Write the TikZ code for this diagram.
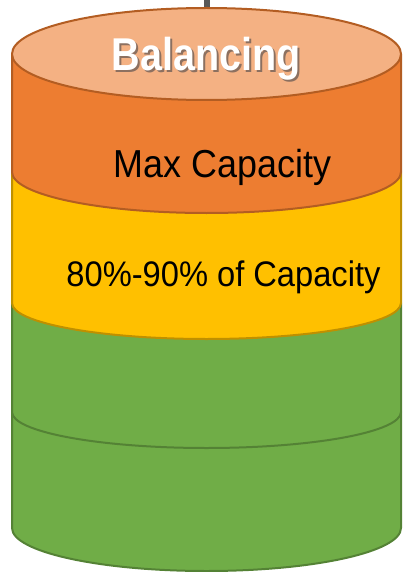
\documentclass[tikz,border=0pt]{standalone}
\usepackage{fontspec}
\setmainfont{Liberation Sans}
\newfontfamily\labfont[FakeStretch=0.92]{Liberation Sans}
\newfontfamily\balfont[FakeStretch=0.86]{Liberation Sans Bold}
\definecolor{topfill}{HTML}{F4B183}
\definecolor{orfill}{HTML}{ED7D31}
\definecolor{ordraw}{HTML}{B35D22}
\definecolor{yefill}{HTML}{FFC000}
\definecolor{yedraw}{HTML}{BF9000}
\definecolor{grfill}{HTML}{70AD47}
\definecolor{grdraw}{HTML}{548235}
\definecolor{stem}{HTML}{595959}
\definecolor{shadowgray}{HTML}{8C7060}
\newcommand{\shadowtext}[1]{\makebox[0pt][l]{\hspace*{1.8pt}\raisebox{-1.8pt}{\textcolor{shadowgray}{#1}}}#1}
\tikzset{
  band/.style={line width=2pt, line join=round},
  lab/.style={inner sep=0pt, anchor=base, text=black, font=\labfont},
}
\begin{document}
\begin{tikzpicture}[x=1pt,y=-1pt]
\useasboundingbox (0,0) rectangle (406,572);
% stem line on top
\coordinate (stemtop) at (207,0);
\coordinate (stembot) at (207,9);
\draw[stem, line width=5.5pt] (stemtop) -- (stembot);
% green lower band
\path[band, fill=grfill, draw=grdraw] (12,412) -- (12,528) arc[start angle=180, end angle=0, x radius=194.5, y radius=43] -- (401,412) -- cycle;
% green upper band
\path[band, fill=grfill, draw=grdraw] (12,303) -- (12,412) arc[start angle=180, end angle=0, x radius=194.5, y radius=36] -- (401,303) -- cycle;
% yellow band
\path[band, fill=yefill, draw=yedraw] (12,172) -- (12,303) arc[start angle=180, end angle=0, x radius=194.5, y radius=36] -- (401,172) -- cycle;
% orange band
\path[band, fill=orfill, draw=ordraw] (12,54) -- (12,172) arc[start angle=180, end angle=0, x radius=194.5, y radius=41] -- (401,54) -- cycle;
% top ellipse
\path[band, fill=topfill, draw=ordraw] (206.5,54) ellipse[x radius=194.5, y radius=46];
% labels
\node[inner sep=0pt, anchor=base, text=white, font={\balfont\fontsize{46}{46}\selectfont}] (bal) at (206.5,70.5) {\shadowtext{Balancing}};
\node[lab, font={\labfont\fontsize{39}{39}\selectfont}] (maxcap) at (222.5,177) {Max Capacity};
\node[lab, font={\labfont\fontsize{35.5}{35.5}\selectfont}] (pct) at (223.5,286) {80\%-90\% of Capacity};
\end{tikzpicture}
\end{document}
